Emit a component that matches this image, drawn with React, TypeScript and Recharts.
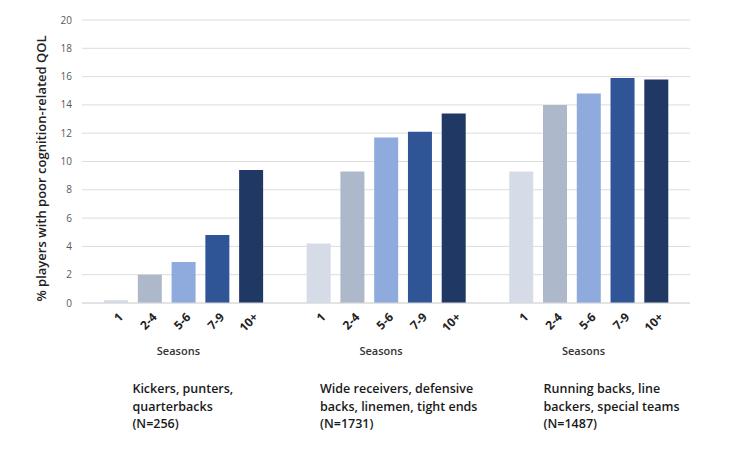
import React from 'react';
import { BarChart, CartesianGrid, XAxis, YAxis, Bar, Cell, Label } from 'recharts';

const seasons = ['1', '2-4', '5-6', '7-9', '10+'];
const groupLabels = [
  ['Kickers, punters,', 'quarterbacks', '(N=256)'],
  ['Wide receivers, defensive', 'backs, linemen, tight ends', '(N=1731)'],
  ['Running backs, line', 'backers, special teams', '(N=1487)'],
];
const kickersValues = [0.2, 2.0, 2.9, 4.8, 9.4];
const receiversValues = [4.2, 9.3, 11.7, 12.1, 13.4];
const runningBacksValues = [9.3, 14.0, 14.8, 15.9, 15.8];
const yTicks = [0, 2, 4, 6, 8, 10, 12, 14, 16, 18, 20];

const seasonColors = ['#d5dce8', '#adb9ca', '#8faadc', '#2f5597', '#1f3864'];
// left edge of each group caption, relative to the middle bar of the group
const captionOffsets = [-51, -66, -45];
const FONT = '"Open Sans", "Noto Sans", sans-serif';

type Row = { key: string; season: string; value: number | null; group: number; pos: number };

const chartData: Row[] = [];
[kickersValues, receiversValues, runningBacksValues].forEach((values, g) => {
  if (g > 0) chartData.push({ key: `gap-${g}`, season: '', value: null, group: g, pos: -1 });
  values.forEach((v, i) => {
    chartData.push({ key: `${g}-${i}`, season: seasons[i], value: v, group: g, pos: i });
  });
});

const SeasonTick = (props: any) => {
  const { x, y, payload } = props;
  const row = chartData.find(d => d.key === payload.value);
  if (!row || row.pos < 0) return null;
  return (
    <g>
      <text
        x={x + 8}
        y={y + 13}
        textAnchor="end"
        transform={`rotate(-45, ${x + 8}, ${y + 13})`}
        fontFamily={FONT}
        fontSize={12}
        fontWeight={700}
        fill="#222"
      >
        {row.season}
      </text>
      {row.pos === 2 && (
        <text x={x - 5} y={y + 50} textAnchor="middle" fontFamily={FONT} fontSize={11} fontWeight={600} fill="#333">
          Seasons
        </text>
      )}
      {row.pos === 2 &&
        groupLabels[row.group].map((line, li) => (
          <text
            key={li}
            x={x + captionOffsets[row.group]}
            y={y + 88 + li * 17.5}
            fontFamily={FONT}
            fontSize={12.5}
            fontWeight={600}
            fill="#1a1a1a"
          >
            {line}
          </text>
        ))}
    </g>
  );
};

const YTitle = (props: any) => {
  const { viewBox } = props;
  const cy = viewBox.y + viewBox.height / 2 + 7;
  const cx = 46;
  return (
    <text
      x={cx}
      y={cy}
      textAnchor="middle"
      transform={`rotate(-90, ${cx}, ${cy})`}
      fontFamily={FONT}
      fontSize={13}
      fontWeight={600}
      fill="#222"
    >
      % players with poor cognition-related QOL
    </text>
  );
};

const App: React.FC = () => {
  return (
    <div style={{ position: 'absolute', left: 0, top: 0, background: '#fff' }}>
      <BarChart
        width={748}
        height={454}
        data={chartData}
        margin={{ top: 20, right: 58, left: 42, bottom: 11 }}
        barCategoryGap="15%"
      >
        <CartesianGrid vertical={false} stroke="#dcdcdc" />
        <XAxis
          dataKey="key"
          interval={0}
          height={140}
          tickLine={false}
          tickSize={0}
          axisLine={{ stroke: '#d9d9d9' }}
          padding={{ left: 17, right: 17 }}
          tick={<SeasonTick />}
        />
        <YAxis
          width={40}
          domain={[0, 20]}
          ticks={yTicks}
          interval={0}
          axisLine={false}
          tickLine={false}
          tickSize={0}
          tickMargin={10}
          tick={{ fill: '#595959', fontSize: 10, fontFamily: FONT }}
        >
          <Label content={<YTitle />} />
        </YAxis>
        <Bar dataKey="value" isAnimationActive={false}>
          {chartData.map(d => (
            <Cell key={d.key} fill={d.pos >= 0 ? seasonColors[d.pos] : 'none'} />
          ))}
        </Bar>
      </BarChart>
    </div>
  );
};

export default App;
